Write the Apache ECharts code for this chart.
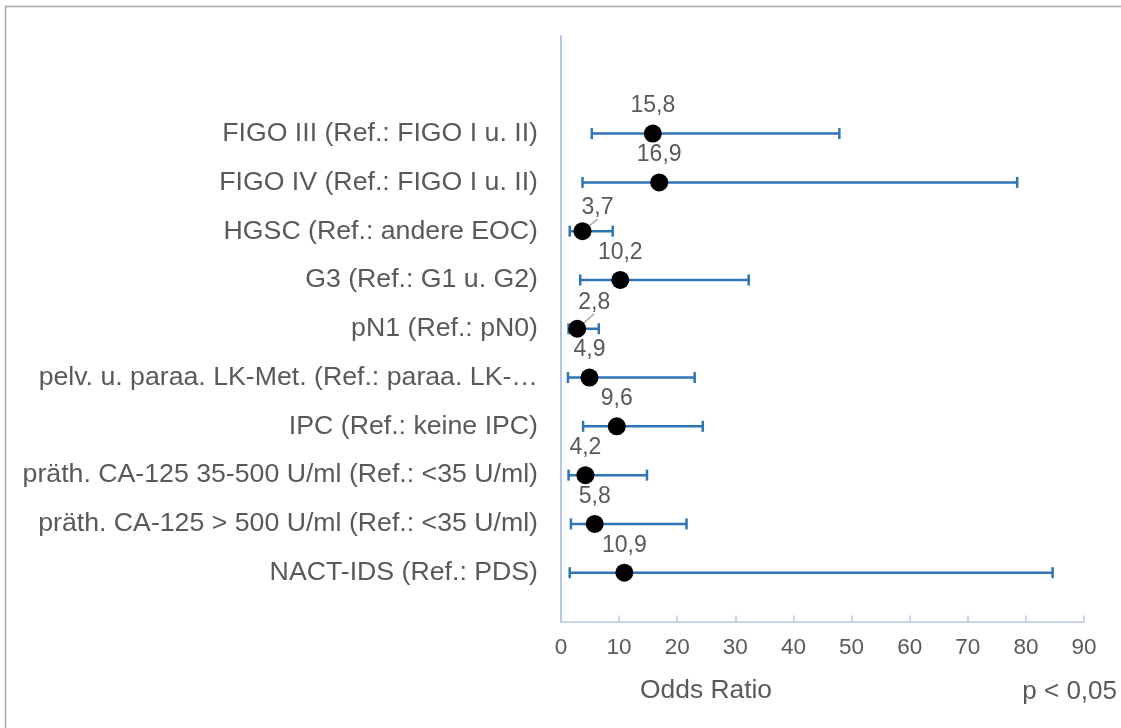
<!DOCTYPE html>
<html>
<head>
<meta charset="utf-8">
<script src="https://cdn.jsdelivr.net/npm/echarts@6/dist/echarts.min.js"></script>
<style>
html,body{margin:0;padding:0;background:#fff;}
#chart{width:1121px;height:728px;}
</style>
</head>
<body>
<div id="chart"></div>
<script>
const categories = [
  'FIGO III (Ref.: FIGO I u. II)',
  'FIGO IV (Ref.: FIGO I u. II)',
  'HGSC (Ref.: andere EOC)',
  'G3 (Ref.: G1 u. G2)',
  'pN1 (Ref.: pN0)',
  'pelv. u. paraa. LK-Met. (Ref.: paraa. LK-…',
  'IPC (Ref.: keine IPC)',
  'präth. CA-125 35-500 U/ml (Ref.: <35 U/ml)',
  'präth. CA-125 > 500 U/ml (Ref.: <35 U/ml)',
  'NACT-IDS (Ref.: PDS)'
];
const oddsRatio = [15.8, 16.9, 3.7, 10.2, 2.8, 4.9, 9.6, 4.2, 5.8, 10.9];
const ciLower   = [5.3, 3.7, 1.5, 3.3, 1.3, 1.2, 3.8, 1.3, 1.7, 1.5];
const ciUpper   = [47.9, 78.5, 8.9, 32.3, 6.5, 23.0, 24.4, 14.8, 21.6, 84.6];
const xMin = 0, xMax = 90, xStep = 10;
const axisTitle = 'Odds Ratio';
const noteText = 'p < 0,05';

const padTop = ['pad_a', 'pad_b'];
const padBottom = ['pad_c'];
const yData = padTop.concat(categories, padBottom);

// labels moved aside with a leader line (by data index): [dx, dy]
const movedLabels = { 2: [15, 4], 4: [17, 1] };

const FONT = "'Liberation Sans', Arial, sans-serif";
const TXT = '#595959';
const AXIS = '#b4c7e7';
const BAR = '#2e75b6';

const chart = echarts.init(document.getElementById('chart'));
chart.setOption({
  animation: false,
  backgroundColor: '#fff',
  textStyle: { fontFamily: FONT },
  grid: { left: 561, right: 37, top: 36, bottom: 106.5, containLabel: false },
  xAxis: {
    type: 'value', min: xMin, max: xMax, interval: xStep,
    axisLine: { show: true, lineStyle: { color: AXIS, width: 1.5 } },
    axisTick: { show: true, inside: true, length: 6, lineStyle: { color: AXIS, width: 1.5 } },
    splitLine: { show: false },
    axisLabel: { color: TXT, fontSize: 22.5, fontFamily: FONT, margin: 15 }
  },
  yAxis: {
    type: 'category', inverse: true, boundaryGap: false, data: yData,
    axisLine: { show: true, lineStyle: { color: AXIS, width: 2 } },
    axisTick: { show: false },
    splitLine: { show: false },
    axisLabel: {
      color: TXT, fontSize: 26.7, fontFamily: FONT, margin: 23, interval: 0,
      formatter: v => (v.indexOf('pad_') === 0 ? '' : v)
    }
  },
  graphic: [
    { type: 'rect', z: -10, silent: true,
      shape: { x: 5.5, y: 6.5, width: 1300, height: 900 },
      style: { fill: null, stroke: '#a6a6a6', lineWidth: 1.5 } },
    { type: 'text', left: 640, top: 678,
      style: { text: axisTitle, fill: TXT, font: "26.4px 'Liberation Sans', Arial, sans-serif" } },
    { type: 'text', right: 4, top: 679,
      style: { text: noteText, fill: TXT, font: "26px 'Liberation Sans', Arial, sans-serif" } }
  ],
  series: [
    {
      type: 'custom',
      z: 2,
      encode: { x: [0, 1], y: 2 },
      data: categories.map((c, i) => [ciLower[i], ciUpper[i], c]),
      renderItem: (params, api) => {
        const yv = api.value(2);
        const p1 = api.coord([api.value(0), yv]);
        const p2 = api.coord([api.value(1), yv]);
        const h = 5.5;
        const st = { stroke: BAR, lineWidth: 2.5 };
        return {
          type: 'group',
          children: [
            { type: 'line', shape: { x1: p1[0], y1: p1[1], x2: p2[0], y2: p2[1] }, style: st },
            { type: 'line', shape: { x1: p1[0], y1: p1[1] - h, x2: p1[0], y2: p1[1] + h }, style: st },
            { type: 'line', shape: { x1: p2[0], y1: p2[1] - h, x2: p2[0], y2: p2[1] + h }, style: st }
          ]
        };
      }
    },
    {
      type: 'scatter',
      z: 3,
      symbol: 'circle',
      symbolSize: 18,
      itemStyle: { color: '#000', opacity: 1 },
      data: categories.map((c, i) => ({
        value: [oddsRatio[i], c],
        labelLine: { show: !!movedLabels[i] }
      })),
      label: {
        show: true, position: 'top', distance: 7,
        color: TXT, fontSize: 23, fontFamily: FONT,
        formatter: p => String(p.value[0]).replace('.', ',')
      },
      labelLine: { show: false, lineStyle: { color: '#a6a6a6', width: 1.5 } },
      labelLayout: p => {
        const m = movedLabels[p.dataIndex];
        return m ? { dx: m[0], dy: m[1] } : {};
      }
    }
  ]
});
</script>
</body>
</html>
